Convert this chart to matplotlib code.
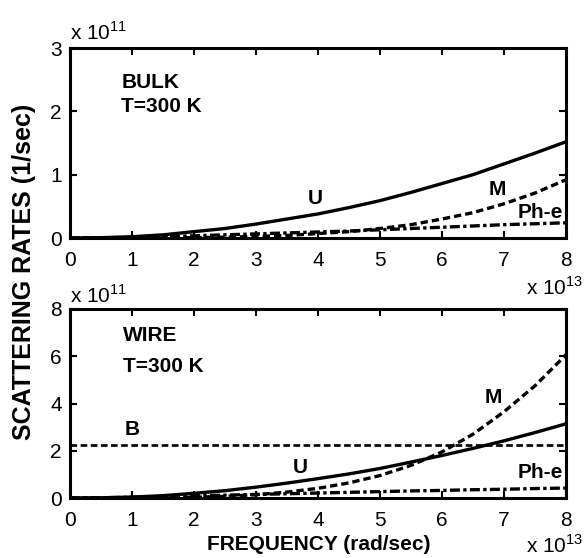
import matplotlib
matplotlib.use("Agg")
import matplotlib.pyplot as plt
import numpy as np

plt.rcParams['font.family'] = ['Liberation Sans', 'DejaVu Sans']
plt.rcParams['mathtext.fontset'] = 'custom'
plt.rcParams['mathtext.rm'] = 'Liberation Sans'

# frequency in units of 1e13 rad/sec
freq = [0, 0.5, 1, 1.5, 2, 2.5, 3, 3.5, 4, 4.5, 5, 5.5, 6, 6.5, 7, 7.5, 8]

# BULK, rates in units of 1e11 1/sec
bulk_U = [0, 0.005, 0.02, 0.05, 0.10, 0.15, 0.22, 0.30, 0.38, 0.48, 0.59, 0.72, 0.86, 1.00, 1.17, 1.34, 1.52]
bulk_M = [0, 0, 0, 0.002, 0.006, 0.013, 0.025, 0.04, 0.07, 0.10, 0.15, 0.21, 0.30, 0.40, 0.54, 0.71, 0.92]
bulk_Phe = [0, 0.003, 0.01, 0.02, 0.035, 0.05, 0.065, 0.08, 0.095, 0.11, 0.13, 0.15, 0.17, 0.19, 0.21, 0.225, 0.24]

# WIRE, rates in units of 1e11 1/sec
wire_U = [0, 0.01, 0.04, 0.10, 0.20, 0.31, 0.46, 0.63, 0.82, 1.02, 1.25, 1.52, 1.80, 2.10, 2.42, 2.77, 3.14]
wire_M = [0, 0, 0.002, 0.01, 0.03, 0.07, 0.14, 0.25, 0.41, 0.64, 0.95, 1.38, 1.95, 2.70, 3.65, 4.75, 6.06]
wire_Phe = [0, 0.01, 0.03, 0.06, 0.09, 0.12, 0.15, 0.18, 0.21, 0.24, 0.27, 0.30, 0.32, 0.35, 0.37, 0.40, 0.42]
wire_B = [2.25] * len(freq)

x_ticks = [0, 1, 2, 3, 4, 5, 6, 7, 8]
top_yticks = [0, 1, 2, 3]
bot_yticks = [0, 2, 4, 6, 8]

fig = plt.figure(figsize=(5.87, 5.58), dpi=100)
W, H = 587, 558
ax1 = fig.add_axes([70 / W, (H - 238) / H, 496 / W, 190 / H])
ax2 = fig.add_axes([70 / W, (H - 498) / H, 496 / W, 189 / H])

lw = 2.4
tick_fs = 15
lab_fs = 15

ax1.plot(freq, bulk_U, color='black', lw=lw)
ax1.plot(freq, bulk_M, color='black', lw=lw, ls=(0, (2.2, 1.2)))
ax1.plot(freq, bulk_Phe, color='black', lw=lw, ls=(0, (3, 1, 1, 1)))

ax2.plot(freq, wire_B, color='black', lw=lw * 0.8, ls=(0, (2.5, 1.3)))
ax2.plot(freq, wire_U, color='black', lw=lw)
ax2.plot(freq, wire_M, color='black', lw=lw, ls=(0, (2.2, 1.2)))
ax2.plot(freq, wire_Phe, color='black', lw=lw, ls=(0, (3, 1, 1, 1)))

for ax, yt in ((ax1, top_yticks), (ax2, bot_yticks)):
    ax.set_xlim(0, 8)
    ax.set_ylim(yt[0], yt[-1])
    ax.set_xticks(x_ticks)
    ax.set_yticks(yt)
    ax.tick_params(direction='in', top=True, right=True, length=5, width=1.5,
                   labelsize=tick_fs)
    ax.tick_params(axis='x', pad=9)
    ax.tick_params(axis='y', pad=6)
    for s in ax.spines.values():
        s.set_linewidth(2.2)

txt = dict(fontsize=lab_fs, fontweight='bold', color='black')
ax1.text(0.83, 2.46, 'BULK', va='center', ha='left', **txt)
ax1.text(0.83, 2.08, 'T=300 K', va='center', ha='left', **txt)
ax1.text(3.95, 0.63, 'U', va='center', ha='center', **txt)
ax1.text(6.89, 0.76, 'M', va='center', ha='center', **txt)
ax1.text(7.58, 0.41, 'Ph-e', va='center', ha='center', **txt)

ax2.text(0.85, 6.86, 'WIRE', va='center', ha='left', **txt)
ax2.text(0.85, 5.55, 'T=300 K', va='center', ha='left', **txt)
ax2.text(1.0, 2.88, 'B', va='center', ha='center', **txt)
ax2.text(3.71, 1.27, 'U', va='center', ha='center', **txt)
ax2.text(6.82, 4.24, 'M', va='center', ha='center', **txt)
ax2.text(7.58, 1.06, 'Ph-e', va='center', ha='center', **txt)

sci_fs = 15
fig.text(70 / W, 1 - 40 / H, r'x 10$^{11}$', fontsize=sci_fs, ha='left', va='baseline')
fig.text(70 / W, 1 - 303 / H, r'x 10$^{11}$', fontsize=sci_fs, ha='left', va='baseline')
fig.text(583 / W, 1 - 295 / H, r'x 10$^{13}$', fontsize=sci_fs, ha='right', va='baseline')
fig.text(583 / W, 1 - 553 / H, r'x 10$^{13}$', fontsize=sci_fs, ha='right', va='baseline')

fig.text(319 / W, 1 - 545 / H, 'FREQUENCY (rad/sec)', fontsize=15, fontweight='bold',
         ha='center', va='center')
fig.text(24 / W, 1 - 272 / H, 'SCATTERING RATES (1/sec)', fontsize=18, fontweight='bold',
         ha='center', va='center', rotation=90)

fig.savefig('out.png', dpi=100)
